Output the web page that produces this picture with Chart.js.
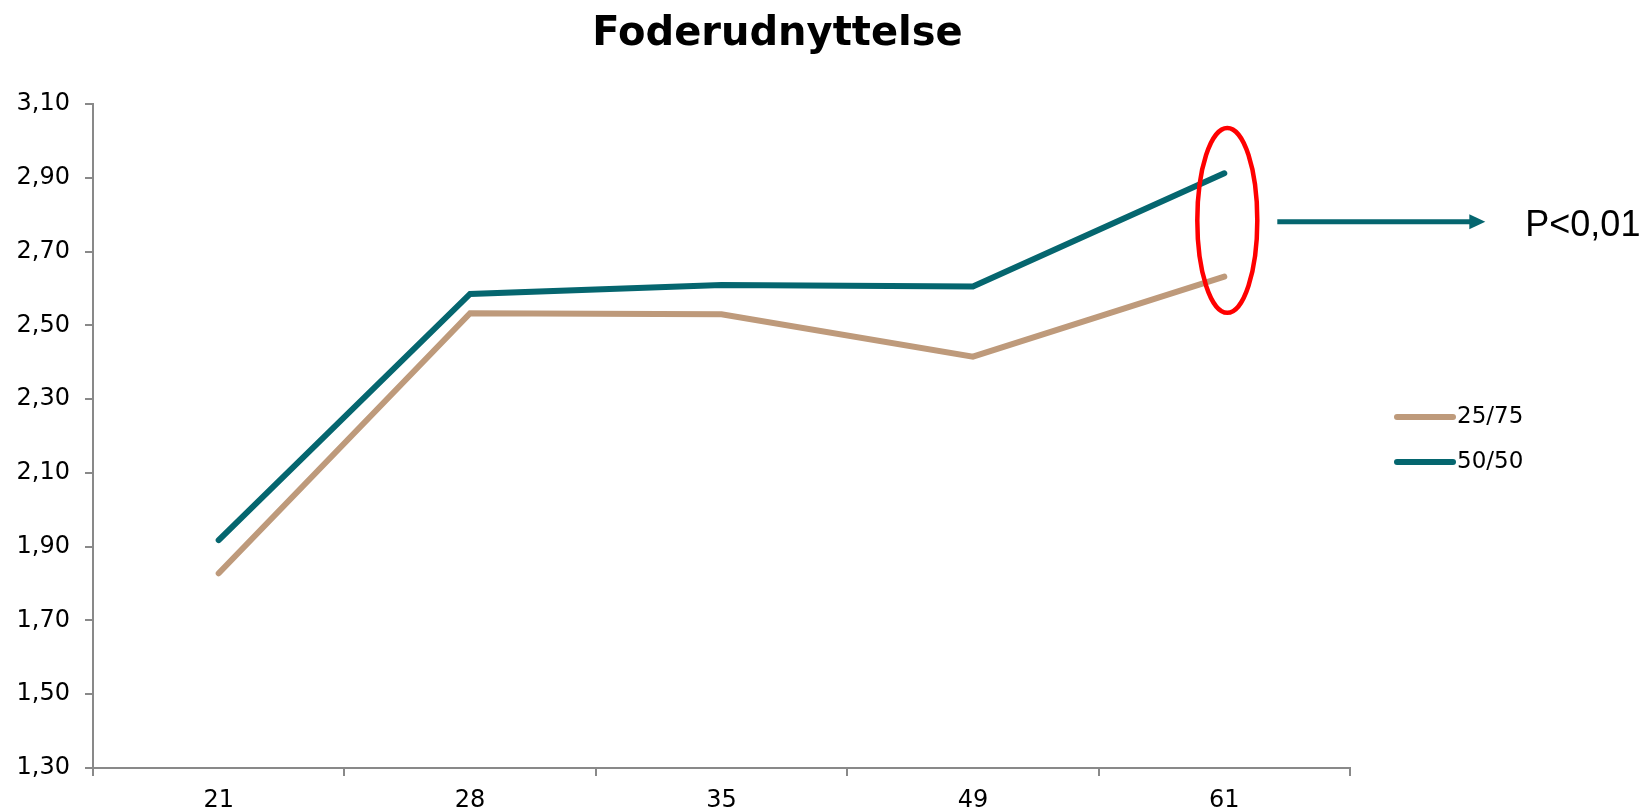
<!DOCTYPE html>
<html>
<head>
<meta charset="utf-8">
<script src="https://cdn.jsdelivr.net/npm/chart.js@4.4.1/dist/chart.umd.min.js"></script>
<style>
  html, body { margin: 0; padding: 0; background: #ffffff; }
  canvas { display: block; }
</style>
</head>
<body>
<canvas id="chart" width="1648" height="812"></canvas>
<script>
// ---- data ----
const chartTitle = 'Foderudnyttelse';
const categories = ['21', '28', '35', '49', '61'];
const seriesLabels = ['25/75', '50/50'];
const values2575 = [1.828, 2.533, 2.530, 2.415, 2.632];
const values5050 = [1.918, 2.585, 2.609, 2.605, 2.912];
const yMin = 1.3;
const yMax = 3.1;
const yStep = 0.2;
const pValueText = 'P<0,01';
// annotation extents in data units (ellipse around last category, arrow level)
const ellipseTopValue = 3.035;
const ellipseBottomValue = 2.534;
const arrowValue = 2.781;

// ---- styles ----
const colorTan = '#BE9A7B';
const colorTeal = '#05666F';
const axisColor = '#898989';
const tickFont = { family: '"DejaVu Sans"', size: 24 };

const overlayPlugin = {
  id: 'overlay',
  afterDraw(chart) {
    const { ctx, chartArea, scales } = chart;
    const xs = scales.x, ys = scales.y;
    ctx.save();
    // legend
    const lx = chartArea.right + 47;
    const cy = (chartArea.top + chartArea.bottom) / 2;
    chart.data.datasets.forEach((ds, i) => {
      const yy = cy - 19 + i * 45;
      ctx.strokeStyle = ds.borderColor;
      ctx.lineWidth = 6;
      ctx.lineCap = 'round';
      ctx.beginPath();
      ctx.moveTo(lx, yy);
      ctx.lineTo(lx + 56, yy);
      ctx.stroke();
      ctx.fillStyle = '#000000';
      ctx.font = '23px "DejaVu Sans"';
      ctx.textAlign = 'left';
      ctx.textBaseline = 'middle';
      ctx.fillText(ds.label, lx + 60, yy);
    });
    // annotation: ellipse, arrow, text
    const px = xs.getPixelForValue(categories.length - 1);
    const ey1 = ys.getPixelForValue(ellipseTopValue);
    const ey2 = ys.getPixelForValue(ellipseBottomValue);
    ctx.strokeStyle = '#FF0000';
    ctx.lineWidth = 4.5;
    ctx.beginPath();
    ctx.ellipse(px + 3, (ey1 + ey2) / 2, 30, (ey2 - ey1) / 2, 0, 0, Math.PI * 2);
    ctx.stroke();
    const ay = ys.getPixelForValue(arrowValue);
    ctx.strokeStyle = colorTeal;
    ctx.lineWidth = 5;
    ctx.lineCap = 'butt';
    ctx.beginPath();
    ctx.moveTo(px + 53, ay);
    ctx.lineTo(px + 247, ay);
    ctx.stroke();
    ctx.fillStyle = colorTeal;
    ctx.beginPath();
    ctx.moveTo(px + 261, ay);
    ctx.lineTo(px + 245, ay - 7.5);
    ctx.lineTo(px + 245, ay + 7.5);
    ctx.closePath();
    ctx.fill();
    ctx.fillStyle = '#000000';
    ctx.font = '36px "Liberation Sans", Arial, sans-serif';
    ctx.textAlign = 'left';
    ctx.textBaseline = 'alphabetic';
    ctx.fillText(pValueText, px + 301, ay + 14.3);
    ctx.restore();
  }
};

new Chart(document.getElementById('chart'), {
  type: 'line',
  data: {
    labels: categories,
    datasets: [
      { label: seriesLabels[0], data: values2575, borderColor: colorTan, backgroundColor: colorTan,
        borderWidth: 6, pointRadius: 0, tension: 0, borderCapStyle: 'round', borderJoinStyle: 'miter', yAxisID: 'y' },
      { label: seriesLabels[1], data: values5050, borderColor: colorTeal, backgroundColor: colorTeal,
        borderWidth: 6, pointRadius: 0, tension: 0, borderCapStyle: 'round', borderJoinStyle: 'miter', yAxisID: 'y' }
    ]
  },
  options: {
    responsive: false,
    animation: false,
    devicePixelRatio: 1,
    layout: { padding: { left: 0, right: 93, top: 0, bottom: 0 } },
    plugins: {
      legend: { display: false },
      tooltip: { enabled: false },
      title: {
        display: true,
        text: chartTitle,
        color: '#000000',
        font: { family: '"DejaVu Sans"', size: 40, weight: 'bold' },
        padding: { top: 11, bottom: 45 }
      }
    },
    scales: {
      x: {
        type: 'category',
        offset: true,
        grid: { display: true, offset: true, drawOnChartArea: false, drawTicks: true, tickLength: 8, color: axisColor, lineWidth: 2 },
        border: { display: true, color: axisColor, width: 2 },
        ticks: { color: '#000000', font: tickFont, padding: 10, maxRotation: 0, autoSkip: false },
        afterFit(scale) { scale.height = 44; }
      },
      y: {
        type: 'linear',
        position: 'left',
        min: yMin,
        max: yMax,
        grid: { display: true, drawOnChartArea: false, drawTicks: true, tickLength: 8, color: axisColor, lineWidth: 2 },
        border: { display: true, color: axisColor, width: 2 },
        ticks: {
          stepSize: yStep,
          color: '#000000',
          font: tickFont,
          padding: 15,
          callback: (v) => Number(v).toFixed(2).replace('.', ',')
        },
        afterFit(scale) { scale.width = 93; }
      },
      spacer: {
        type: 'linear',
        position: 'right',
        display: true,
        grid: { display: false },
        border: { display: false },
        ticks: { display: false },
        afterFit(scale) { scale.width = 205; }
      }
    }
  },
  plugins: [overlayPlugin]
});
</script>
</body>
</html>
